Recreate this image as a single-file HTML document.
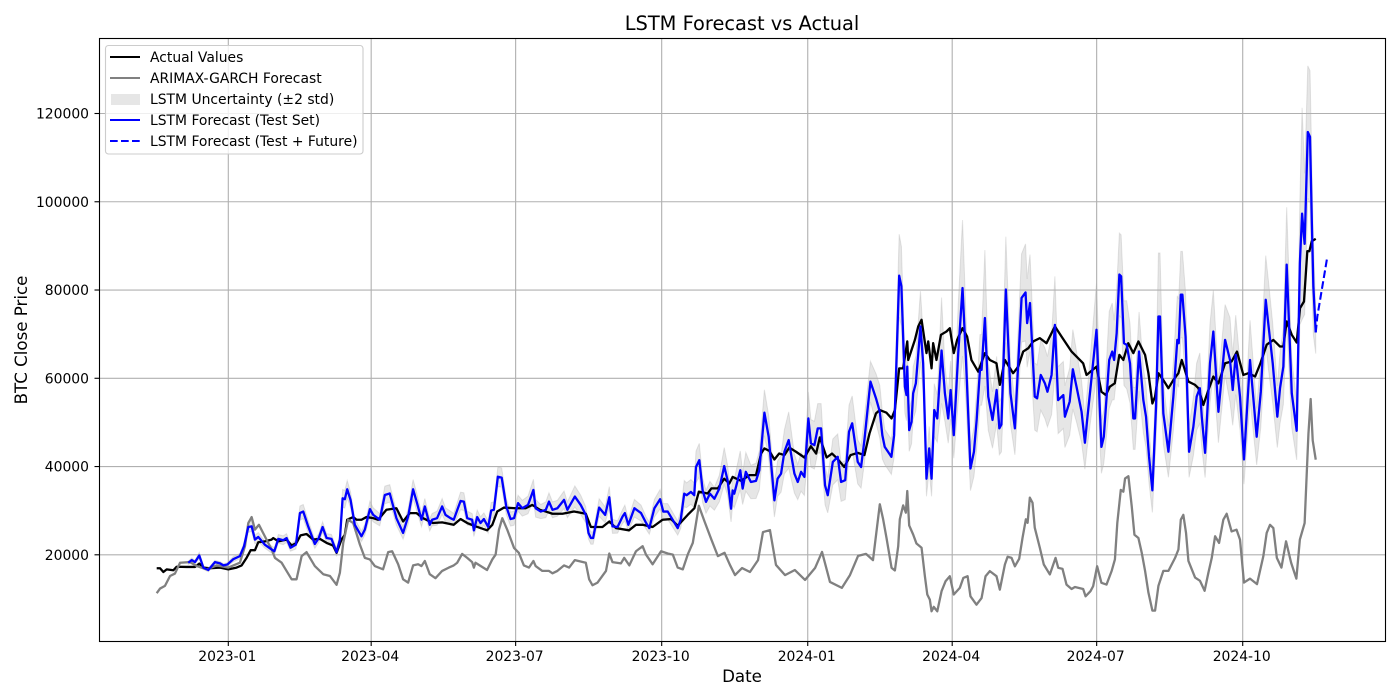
<!DOCTYPE html>
<html lang="en">
<head>
<meta charset="utf-8">
<title>LSTM Forecast vs Actual</title>
<style>
html,body{margin:0;padding:0;background:#fff;width:1400px;height:700px;overflow:hidden}
svg{display:block}
text{font-family:"DejaVu Sans","Liberation Sans",sans-serif;fill:#000}
</style>
</head>
<body>
<svg id="chart" xmlns="http://www.w3.org/2000/svg" width="1400" height="700" viewBox="0 0 1400 700">
  <rect x="0" y="0" width="1400" height="700" fill="#fff"/>
  <g id="band-layer"></g>
  <g id="grid-layer"></g>
  <g id="series-layer"></g>
  <g id="tick-layer"></g>
  <rect x="99.5" y="38.5" width="1286" height="603" fill="none" stroke="#000" stroke-width="1.1"/>
  <text x="742" y="30" text-anchor="middle" font-size="19.4">LSTM Forecast vs Actual</text>
  <text x="742" y="682" text-anchor="middle" font-size="16.67">Date</text>
  <text transform="translate(27,340) rotate(-90)" text-anchor="middle" font-size="16.67">BTC Close Price</text>
  <g>
    <rect x="105.5" y="45.5" width="257.5" height="108.5" rx="3" ry="3" fill="#fff" fill-opacity="0.8" stroke="#ccc" stroke-width="1.1"/>
    <line x1="110" x2="140" y1="57" y2="57" stroke="#000" stroke-width="2.08"/>
    <text x="150" y="62" font-size="13.9">Actual Values</text>
    <line x1="110" x2="140" y1="78" y2="78" stroke="#808080" stroke-width="2.08"/>
    <text x="150" y="83" font-size="13.9">ARIMAX-GARCH Forecast</text>
    <rect x="111" y="94" width="29" height="11" fill="#808080" fill-opacity="0.2"/>
    <text x="150" y="104" font-size="13.9">LSTM Uncertainty (±2 std)</text>
    <line x1="110" x2="140" y1="120" y2="120" stroke="#0000ff" stroke-width="2.08"/>
    <text x="150" y="125" font-size="13.9">LSTM Forecast (Test Set)</text>
    <line x1="110" x2="140" y1="141" y2="141" stroke="#0000ff" stroke-width="2.08" stroke-dasharray="7.7 3.3"/>
    <text x="150" y="146" font-size="13.9">LSTM Forecast (Test + Future)</text>
  </g>
</svg>
<script>
// Tick labels
const xTickLabels = ['2023-01','2023-04','2023-07','2023-10','2024-01','2024-04','2024-07','2024-10'];
const yTickValues = [20000,40000,60000,80000,100000,120000];

// Days are counted from 2023-01-01
const actualDays = [-45.1,-43,-40.9,-38.8,-34.6,-32.5,-26.2,-21,-18.3,-15.7,-11.5,-5.2,0,5.2,8.4,11.5,14.1,16.8,18.9,23,27.3,28.3,31.5,36.7,39.9,43,45.5,49.3,53.5,57.7,61.9,66,68.2,71.3,73.4,74.9,78.7,80.8,83.9,87,91.3,94.4,99.6,105.9,110.1,114.3,118.5,122.7,129,134.7,142,146.3,150.5,155.7,163,166.3,169.4,173.6,181,187.3,191.5,196.3,200,204.2,210.5,217.8,225.2,228.4,235.7,240,244.2,252.4,256.8,261,267.3,273.6,278.9,283.1,289.4,293.6,296.4,302,304.3,308.4,312.4,315.6,317.7,323,328.2,332.4,335.6,337.7,340.8,344,347,350.3,353.4,357.6,362.9,367,370.3,372.6,376.9,380.3,383.6,388,392,396.5,400.7,403.9,408,410.4,414.6,417.8,419.9,422.6,425.1,427.7,428.3,432.5,434.6,436.7,439.8,440.9,443,444,446.1,448.9,452.4,454.5,457,459.1,462.5,465.4,468.1,472.4,476.6,479.7,483.9,486,489.2,494.4,497.6,500.7,503.9,507,511.2,515.4,520.7,524.9,531.2,538.5,540.6,546.9,550,552.8,555.3,558.4,561.3,563.8,566.9,570.1,573.3,577.5,579.6,582.1,583.8,585.9,589,592.2,595.3,598.5,600.6,604.8,609,611.1,614.2,617.4,620.5,623.7,627.9,632,635.4,639.4,642.6,646.8,650,654.1,658.3,662.5,664.6,666.7,669.9,673,675.1,677.6,679.7,681,682.5,685];
const actualValues = [16950,16950,16100,16700,16500,17300,17250,17250,18000,17100,16950,17100,16700,17100,17600,19300,21050,21050,22850,23050,23450,23800,23050,23450,22100,22700,24400,24700,23450,23600,22700,22100,20450,23450,24550,27950,28550,27950,27950,28550,28300,27950,30200,30550,27550,29450,29450,28300,27200,27350,26800,28100,27200,26450,25550,26800,29800,30700,30550,30550,31300,30200,29800,29300,29300,29800,29300,26300,26300,27550,26050,25550,26800,26800,26300,27950,28100,26600,29050,30550,34300,33900,35050,35050,37250,36150,37650,36750,38050,38050,42950,44100,43550,41600,42950,42600,44300,43350,42050,44600,42950,46600,42050,42950,41800,39900,42600,43100,42600,47500,52050,52800,52200,50900,52800,62250,62250,68350,64150,68700,71750,73250,65700,68350,62250,67950,64150,69850,70600,71350,65700,68700,71350,69450,64150,61500,65700,64150,63400,58500,64150,61150,62650,66050,66800,68350,69100,67950,71750,69450,66050,63400,60750,62650,56950,56200,58100,58850,65300,64150,67950,65700,68350,65300,61150,54300,55850,61150,59600,57750,59600,61150,64150,59250,58500,57750,53950,57350,60400,58850,63400,63800,66050,60750,61150,60400,63250,67600,68700,67200,67200,72900,69850,68100,75900,77400,88800,88800,91050,91600];

const arimaxDays = [-45.1,-43,-39.9,-36.7,-33.6,-30.4,-24.1,-19.9,-13.6,-7.3,0,7.3,10.5,12.6,14.7,16.8,19.3,23,27.3,29.4,33.6,36.7,39.9,43,46.2,49.3,54.5,59.8,64,68.2,70.3,72.4,75.5,78.7,82.9,86,89.2,92.3,97.5,100.7,103.2,107,110.1,113.3,116.4,119.6,121.7,123.8,126.9,130.5,134.7,138.9,142,144.2,147.3,150.5,153.6,154.7,155.7,163,166.3,168.4,170.5,172.6,175.7,180,183,186.2,189.4,192.2,193.6,197.8,202,204.2,207.3,211.5,214.7,218.3,225.2,227.3,229.4,232.6,237.9,240,242,247.3,249.4,252.6,256.8,261,263.1,267.3,272.6,276.8,280,283.1,286.3,289.4,292.6,296.4,300,304.3,308.4,312.6,316,319.2,323.6,328.6,333.7,336.8,341.2,345,350.7,356.9,363.3,369.6,374,379,386.5,391.6,396.7,401.7,406.1,410.4,412.5,414.6,417.8,419.9,422,423,425.1,426.8,427.7,428.9,431.4,433.5,436.7,438.8,440.3,441.9,443,444.4,446.6,449.3,451.8,454.5,457,460.8,463,465.7,467.5,471.3,474.5,477,479.7,483.9,486,489.2,490.9,493.4,495.5,498.2,500.3,502.4,503.5,504.9,506.6,508,511.2,513.7,517.5,521.1,522.8,525.5,528,531.2,533.3,538.5,540,543.1,544.8,547.3,550,553.2,556.4,558.5,560,562.2,563.8,564.9,567,569.1,570.8,573.3,575.4,577.5,579.6,582.1,583.8,585.9,589,592.2,596.4,598.5,600,601.6,603.3,604.8,609,612.1,615,617.4,619.5,621.6,624.1,626.8,628.9,632,635.1,637.3,639.8,643.6,648,652,654.1,656.2,658.3,660.5,663.4,666.3,669.5,672.8,675,678,680.4,681.8,683.1,685];
const arimaxValues = [11300,12350,12950,15200,15750,18200,18350,17450,16700,17600,17100,18200,21950,27200,28550,25700,26800,24200,21200,19300,18200,16350,14450,14450,19700,20600,17450,15600,15200,13200,15950,22700,27950,27200,22300,19300,18950,17450,16700,20600,20800,17850,14450,13700,17600,17850,17450,18600,15600,14700,16350,17100,17600,18200,20200,19300,18350,17100,18200,16550,18950,20050,25700,28300,25700,21550,20450,17600,17100,18600,17450,16350,16350,15800,16350,17600,17100,18800,18200,14450,13100,13700,16350,20300,18350,18050,19300,17600,20800,21950,20050,17850,20800,20300,20050,17100,16700,20050,22700,31100,27550,23450,19700,20450,17700,15400,17000,16100,18800,25150,25600,17700,15400,16550,14300,17000,20650,13850,12500,15400,19750,20200,18800,31450,28050,23850,17050,16450,21950,28050,31200,29550,34450,26650,24600,22550,21600,15150,11000,9850,7200,8200,7200,11750,14000,15150,11000,12500,14750,15150,10600,8700,10200,15150,16300,15150,12100,17800,19550,19300,17400,19100,23850,28050,27250,32950,31800,26150,21600,17800,15550,19300,17050,16800,13250,12250,12700,12250,10600,11750,12900,17400,13650,13250,16300,18950,27200,34700,34300,37300,37800,30950,24550,23800,20450,16350,11450,7350,7350,12950,16350,16350,19300,21200,27950,29050,24950,18600,14850,14100,11850,15950,19300,24200,22700,27950,29300,25300,25700,23450,13700,14600,13350,19700,24950,26800,26050,19300,17100,23050,18200,14600,23450,27200,47400,55300,45900,41550];

const lstmDays = [
-25.2,-23,-21,-18.3,-15.7,-12.6,-8.4,-5.2,-3.1,-0.6,
3.1,7.3,9.9,12.6,14.7,16.8,18.9,23,27.3,29,
31.5,34.6,36.7,39.2,42.6,45.1,47.2,50.3,54.5,57,
59.4,61.9,65,68.2,70.3,72,73.4,74.9,77,79.7,
83.9,86,89.2,91.3,95.4,98.6,101.7,105.9,110.1,113.3,
116.4,118.9,121.7,123.8,126.9,128.4,131.5,134.7,136.8,140,
142,146.3,148.4,150.5,153.6,154.7,156.8,158.9,161,163.7,
165.6,167.3,169.8,172.2,175.1,177.8,180,182.5,185.2,188.8,
192.2,193.6,196.8,200,202,204.2,207.3,211.5,213.6,218.3,
222,225.2,226.9,228.4,229.8,233.6,237.4,240,242,245.2,
248.4,249.8,252,255.8,260,263.2,265.2,268.4,272,274,
276.8,283.1,285,287.2,288.7,291.4,293.5,294.6,296.7,298.8,
300.9,303.4,306.2,309.3,312.4,314.5,316.7,317.7,318.7,322.5,
324,326,329.2,332.4,334.5,337.7,340.4,344,346,348.2,
350.3,353,356.6,358.7,360.8,362.9,365.4,367,369.2,371.3,
373.4,375.9,377.6,380.8,383.9,386,388.6,391,393,396.5,
398.6,400.7,404.5,408,410.4,412,413.5,417.7,419.4,422.6,
424,426.2,427.2,427.7,428.9,430.4,431.4,433.1,436,437.7,
439.8,441.5,443,444.7,446.6,449.3,451.4,453.5,455,457,
459.8,462.5,464.6,467.5,469.7,471.4,473.5,474.5,476.6,478.7,
481.4,484,485.7,487,489.8,492.7,495.5,499.7,502.2,503.2,
505,508,509.5,511.8,514.4,516,518.6,520.7,522.7,526,
527,530,532,534.3,537.5,539.6,541,543.1,546.9,550,
551.5,554.9,556.8,558,559.6,561.3,562.4,564.2,565.9,568,
570.1,571.2,573.7,576.4,578.1,580,582.1,584.4,585.9,586.9,
589,592.2,595.3,597.8,598.7,600,601,603,605.2,607.9,
610,612,613.2,615.3,618.4,620.5,623.7,627.9,631,632.7,
634.6,637.3,639.8,643.6,647.8,650.4,653.5,655.2,657.9,660.8,
662.5,664.6,666.7,669.9,673,675,676.4,678,680,681.4,
682.5,683.5,685];
const lstmValues = [
18200,18800,18350,19850,17100,16550,18350,18050,17600,17800,
19000,19700,21950,26300,26450,23450,24050,22300,21200,20800,
23600,23300,23800,21600,22300,29450,29800,26450,22450,23800,
26300,23800,23600,20600,23450,32800,32600,34850,32450,26800,
24200,25700,30350,29050,27950,33550,33900,28300,24950,28700,
34850,31700,27950,30950,26800,27950,28300,30950,29050,28300,
27950,32200,32050,28300,27950,25550,28550,27200,28100,26300,
30050,30200,37700,37500,30950,28100,28300,31700,30550,31300,
34700,30550,29800,30200,32050,30200,30550,32450,30200,33200,
31300,29050,24950,23800,23800,30700,29050,33050,26450,26300,
28700,29450,26800,30550,29450,27200,26050,30550,32600,29800,
29800,26050,28000,33850,33500,34250,33500,39900,41450,34600,
32000,33850,32700,35000,40100,36900,30450,34600,33850,39150,
35000,38800,36500,36750,39150,52200,46750,32350,37250,38400,
43350,46000,38400,36500,38800,37650,50900,45250,44850,48650,
48650,35750,33500,41050,42200,36500,36900,47900,49800,41050,
39900,46000,59250,55450,52400,47100,44450,42200,47100,83250,
80850,58100,56200,62650,48250,50150,56600,58850,71750,63400,
37250,44100,37250,52800,50900,66300,56600,50900,57350,47100,
65700,80450,64950,39550,43350,50550,61900,61900,73650,55850,
50550,57350,48650,49500,80100,56600,48650,78200,79450,72500,
77050,55850,55450,60750,58850,56950,60750,72100,55050,56200,
51300,54700,62050,58100,52400,45400,50550,57750,71000,44450,
46750,64150,66050,64150,70200,83500,83100,67950,67600,63400,
50900,50900,66050,55050,51300,42200,34600,53550,74000,74000,
52050,43350,55850,68700,67950,78950,78950,69450,43350,49000,
55850,57750,51300,43100,63400,70600,52400,68700,64150,57350,
65300,55850,41600,64150,46750,56950,77800,72100,63400,51300,
57750,62650,85750,56600,48100,86100,97300,90450,115800,114700,
96000,80800,70400];
const lstmStd = [
200,250,200,350,200,200,200,200,200,200,
300,300,400,600,600,500,500,400,400,400,
500,500,500,400,500,800,800,700,500,500,
600,500,500,400,600,1000,1000,1000,900,700,
600,600,900,800,700,1000,1000,800,700,900,
1100,1000,800,900,700,700,800,900,800,800,
700,1000,1000,800,700,700,800,700,700,700,
900,900,1100,1100,900,800,800,900,900,1000,
1200,1000,800,900,1000,900,900,1000,900,1200,
1100,900,700,700,700,1000,900,1200,800,700,
800,900,700,1000,900,700,700,1000,1100,900,
900,800,1000,1500,1400,1400,1400,1800,1900,1400,
1300,1400,1300,1500,2100,1700,1500,1700,1600,2200,
1800,2200,1900,2000,2200,2600,2400,1900,2000,2100,
2500,3200,2200,2000,2200,2100,3000,2700,2700,2800,
2800,2200,2000,2600,2600,2200,2200,3000,3100,2500,
2400,2600,2300,2800,3000,2700,2000,2000,2500,4700,
4500,3000,2900,3000,2400,2500,3000,3100,4000,3300,
2000,2500,2000,3000,2700,6000,3200,2800,3300,2600,
5500,7700,5000,2500,2800,3300,4000,4000,7700,3800,
3200,3800,3000,3100,6000,3500,3000,5000,5500,5000,
5500,3800,3800,4000,4000,4000,4500,5500,3800,3800,
3500,3800,4500,4000,3500,3000,3200,3800,5300,3000,
3000,5500,5500,4500,5000,4700,4700,4800,5000,4500,
3500,3500,4500,3700,3500,3000,2500,3800,7200,7200,
3500,2900,3900,5000,5000,4900,4900,5000,2900,3300,
3800,4000,3500,2800,4500,4700,3500,4000,4800,4000,
4500,3800,2800,4500,3200,4000,5000,5000,4500,3500,
4000,4300,6500,3900,3300,7000,12000,8000,7500,7500,
6500,5500,2400];

const futureDays = [685,686,692];
const futureValues = [70400,74000,86900];

// Axis functions
const xDayZero = 228.3, xPxPerDay = 1.5875;
const yTwenty = 554.8, yPxPerUnit = 0.004413;
function xScale(day){ return xDayZero + xPxPerDay * day; }
function yScale(v){ return yTwenty - (v - 20000) * yPxPerUnit; }
function labelToDay(label){
  const p = label.split('-');
  return (Date.UTC(+p[0], +p[1]-1, 1) - Date.UTC(2023,0,1)) / 86400000;
}
function fmt(n){ return n.toFixed(2); }
function linePath(days, values){
  return days.map(function(d,i){ return (i?'L':'M') + fmt(xScale(d)) + ' ' + fmt(yScale(values[i])); }).join('');
}
function bandPath(days, values, std){
  let top = days.map(function(d,i){ return (i?'L':'M') + fmt(xScale(d)) + ' ' + fmt(yScale(values[i] + 2*std[i])); }).join('');
  let bottom = '';
  for (let i = days.length - 1; i >= 0; i--) {
    bottom += 'L' + fmt(xScale(days[i])) + ' ' + fmt(yScale(values[i] - 2*std[i]));
  }
  return top + bottom + 'Z';
}
const NS = 'http://www.w3.org/2000/svg';
const bandLayer = document.getElementById('band-layer');
const gridLayer = document.getElementById('grid-layer');
const seriesLayer = document.getElementById('series-layer');
const tickLayer = document.getElementById('tick-layer');
function make(tag, attrs, parent, content){
  const el = document.createElementNS(NS, tag);
  for (const k in attrs) el.setAttribute(k, attrs[k]);
  if (content !== undefined) el.textContent = content;
  parent.appendChild(el);
  return el;
}

// Uncertainty band
const bandEl = make('path', {d: bandPath(lstmDays, lstmValues, lstmStd), fill:'#808080', 'fill-opacity':'0.2', stroke:'#808080', 'stroke-opacity':'0.2', 'stroke-width':'1'}, bandLayer);



// X grid, ticks, labels
xTickLabels.forEach(function(label){
  const x = xScale(labelToDay(label));
  const g = make('line', {x1:x, x2:x, y1:39, y2:641, stroke:'#b0b0b0', 'stroke-width':'1.1'}, gridLayer);
  
  
  const t = make('line', {x1:x, x2:x, y1:641, y2:646, stroke:'#000', 'stroke-width':'1.1'}, tickLayer);
  
  
  const l = make('text', {x:x-1, y:661, 'text-anchor':'middle', 'font-size':'13.9'}, tickLayer, label);
  
  
});

// Y grid, ticks, labels
yTickValues.forEach(function(v){
  const y = yScale(v);
  const g = make('line', {x1:99.5, x2:1385.5, y1:y, y2:y, stroke:'#b0b0b0', 'stroke-width':'1.1'}, gridLayer);
  
  
  const t = make('line', {x1:94.5, x2:99.5, y1:y, y2:y, stroke:'#000', 'stroke-width':'1.1'}, tickLayer);
  
  
  const l = make('text', {x:89, y:y+5, 'text-anchor':'end', 'font-size':'13.9'}, tickLayer, String(v));
  
  
});

// Series lines
const actualLine = make('path', {d: linePath(actualDays, actualValues), fill:'none', stroke:'#000', 'stroke-width':'2.3', 'stroke-linejoin':'round'}, seriesLayer);


const arimaxLine = make('path', {d: linePath(arimaxDays, arimaxValues), fill:'none', stroke:'#808080', 'stroke-width':'2.3', 'stroke-linejoin':'round'}, seriesLayer);


const lstmLine = make('path', {d: linePath(lstmDays, lstmValues), fill:'none', stroke:'#0000ff', 'stroke-width':'2.3', 'stroke-linejoin':'round'}, seriesLayer);


const futureLine = make('path', {d: linePath(futureDays, futureValues), fill:'none', stroke:'#0000ff', 'stroke-width':'2.08', 'stroke-dasharray':'7.7 3.3'}, seriesLayer);


</script>
</body>
</html>
